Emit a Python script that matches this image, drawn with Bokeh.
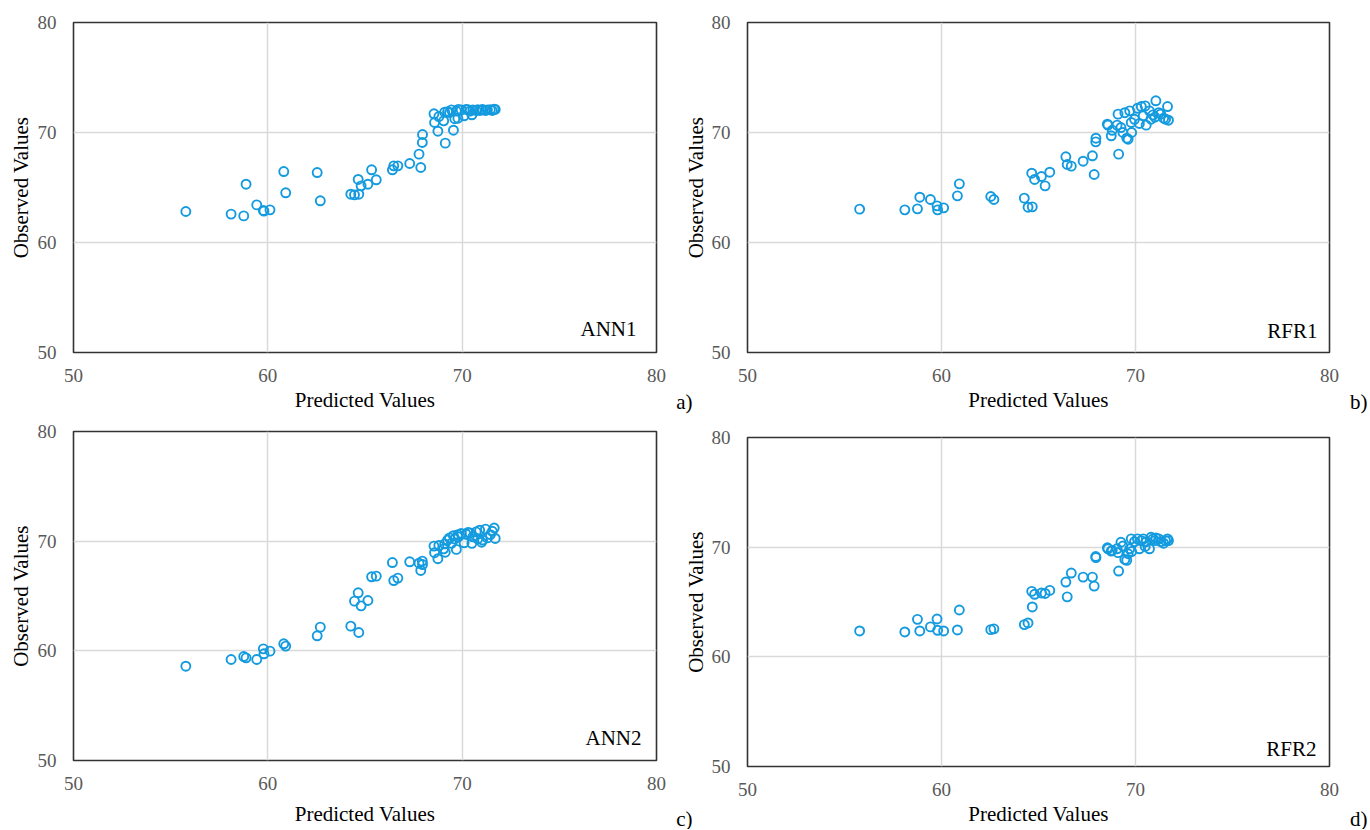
import math
from bokeh.plotting import figure
from bokeh.models import Range1d, FixedTicker, Label, ColumnDataSource
from bokeh.layouts import column, row
from bokeh.embed import file_html
from bokeh.resources import INLINE

# ---------------- data ----------------
predicted = [55.78, 58.11, 58.76, 58.88, 59.43, 59.77, 59.80, 60.11, 60.82, 60.92,
             62.54, 62.70, 64.27, 64.46, 64.68, 64.65, 64.80, 65.15, 65.34, 65.58,
             66.41, 66.48, 66.69, 67.30, 67.78, 67.87, 67.95, 67.96, 69.13,
             68.55, 68.58, 68.75, 68.80, 69.05, 69.10, 69.25, 69.35, 69.45, 69.55,
             69.62, 69.70, 69.78, 69.80, 69.95, 70.10, 70.20, 70.30, 70.40, 70.50,
             70.55, 70.72, 70.80, 70.90, 71.00, 71.05, 71.20, 71.30, 71.45, 71.55,
             71.65, 71.70]

observed_ann1 = [62.82, 62.58, 62.42, 65.30, 63.42, 62.91, 62.85, 62.97, 66.45, 64.52,
                 66.36, 63.79, 64.39, 64.33, 64.39, 65.73, 65.15, 65.30, 66.61, 65.70,
                 66.61, 66.97, 66.97, 67.18, 68.03, 66.82, 69.09, 69.82, 69.03,
                 71.70, 70.91, 70.12, 71.45, 71.06, 71.85, 71.90, 71.82, 72.06, 70.21,
                 71.25, 71.95, 71.30, 72.10, 72.06, 71.52, 72.10, 72.08, 71.95, 71.61,
                 72.06, 72.00, 72.08, 72.00, 72.05, 72.10, 72.00, 72.06, 72.08, 72.00,
                 72.12, 72.10]

observed_rfr1 = [63.03, 62.97, 63.06, 64.12, 63.91, 63.33, 62.97, 63.15, 64.24, 65.33,
                 64.18, 63.91, 64.03, 63.21, 63.24, 66.30, 65.73, 66.00, 65.15, 66.39,
                 67.79, 67.09, 66.94, 67.39, 67.88, 66.18, 69.15, 69.48, 68.03,
                 70.76, 70.67, 69.70, 70.20, 70.67, 71.67, 70.45, 70.00, 71.80, 69.48,
                 69.39, 71.97, 70.91, 70.00, 71.20, 72.20, 70.82, 72.36, 71.52, 72.42,
                 70.67, 71.97, 71.21, 71.60, 71.40, 72.88, 71.80, 71.67, 71.30, 71.21,
                 72.36, 71.12]

observed_ann2 = [58.60, 59.21, 59.48, 59.36, 59.21, 60.18, 59.73, 59.97, 60.64, 60.43,
                 61.37, 62.16, 62.25, 64.53, 61.67, 65.29, 64.10, 64.59, 66.75, 66.81,
                 68.05, 66.41, 66.63, 68.12, 67.99, 67.33, 68.18, 67.87, 68.99,
                 69.55, 68.95, 68.40, 69.60, 69.30, 69.75, 70.10, 70.30, 69.80, 70.50,
                 70.20, 69.25, 70.60, 70.40, 70.70, 69.85, 70.65, 70.80, 70.75, 69.80,
                 70.40, 70.85, 70.20, 71.00, 69.90, 70.10, 71.10, 70.30, 70.60, 70.90,
                 71.20, 70.25]

observed_rfr2 = [62.36, 62.27, 63.42, 62.36, 62.73, 63.45, 62.42, 62.36, 62.45, 64.27,
                 62.48, 62.55, 62.94, 63.09, 64.55, 65.97, 65.70, 65.82, 65.78, 66.06,
                 66.82, 65.47, 67.64, 67.27, 67.27, 66.45, 69.15, 69.05, 67.82,
                 69.94, 69.85, 69.64, 69.70, 69.85, 69.50, 70.45, 70.10, 68.88, 68.80,
                 69.40, 69.85, 70.76, 69.60, 70.50, 70.76, 69.85, 70.60, 70.76, 70.06,
                 70.50, 69.85, 70.90, 70.76, 70.60, 70.85, 70.76, 70.50, 70.36, 70.60,
                 70.76, 70.60]

axis_ticks = [50, 60, 70, 80]
x_title = "Predicted Values"
y_title = "Observed Values"

FONT = "Liberation Serif"
MARKER = "#149BDF"
ROW1_H, ROW2_H = 415, 414


def panel(obs, name, width, height, mb_left, mb_top, frame_w, frame_h,
          with_y_title, y_title_standoff, x_title_standoff, name_off):
    p = figure(width=width, height=height,
               x_range=Range1d(50, 80), y_range=Range1d(50, 80),
               output_backend="svg", toolbar_location=None, frame_align=False,
               min_border_left=mb_left, min_border_top=mb_top,
               min_border_right=width - mb_left - frame_w,
               min_border_bottom=height - mb_top - frame_h)
    p.background_fill_color = "white"
    p.border_fill_color = "white"
    p.outline_line_color = "#333333"
    p.outline_line_width = 1.6
    p.outline_line_alpha = 1.0

    for ax in (p.xaxis[0], p.yaxis[0]):
        ax.ticker = FixedTicker(ticks=axis_ticks)
        ax.axis_line_color = None
        ax.major_tick_line_color = None
        ax.minor_tick_line_color = None
        ax.major_label_text_font = FONT
        ax.major_label_text_font_size = "19px"
        ax.major_label_text_color = "#595959"
        ax.axis_label_text_font = FONT
        ax.axis_label_text_font_size = "21px"
        ax.axis_label_text_font_style = "normal"
        ax.axis_label_text_color = "black"
    p.xaxis.axis_label = x_title
    if with_y_title:
        p.yaxis.axis_label = y_title
        p.yaxis.axis_label_standoff = y_title_standoff
    p.xaxis.major_label_standoff = 10
    p.yaxis.major_label_standoff = 11
    p.xaxis.axis_label_standoff = x_title_standoff

    p.grid.grid_line_color = "#d9d9d9"
    p.grid.grid_line_width = 1.5

    src = ColumnDataSource(data=dict(x=predicted, y=obs))
    p.scatter("x", "y", source=src, marker="circle", size=9,
              fill_color=None, line_color=MARKER, line_width=1.9)

    p.add_layout(Label(x=80, y=50, x_offset=name_off[0], y_offset=name_off[1],
                       text=name, text_align="right", text_baseline="alphabetic",
                       text_font=FONT, text_font_size="21px", text_color="black"))
    return p


def gutter(width, height, letter, letter_x, letter_y, side_title=None):
    """Blank strip between panels (its frame is the whole strip, in pixels):
    holds the panel letter and, optionally, the y-axis title of the panel to its right."""
    g = figure(width=width, height=height,
               x_range=Range1d(0, width), y_range=Range1d(0, height),
               output_backend="svg", toolbar_location=None, frame_align=False,
               x_axis_type=None, y_axis_type=None, min_border=0)
    g.outline_line_color = None
    g.background_fill_color = "white"
    g.border_fill_color = "white"
    g.grid.visible = False
    g.add_layout(Label(x=letter_x, y=height - letter_y, text=letter,
                       text_align="right", text_baseline="middle",
                       text_font=FONT, text_font_size="21px", text_color="black"))
    if side_title is not None:
        tx, ty = side_title
        g.add_layout(Label(x=tx, y=height - ty, text=y_title, angle=math.pi / 2,
                           text_align="center", text_baseline="middle",
                           text_font=FONT, text_font_size="21px",
                           text_color="black"))
    return g


# row 1
pa = panel(observed_ann1, "ANN1", 668, ROW1_H, 73, 22, 583, 330, True, 2, 3, (-20, 24))
pb = panel(observed_rfr1, "RFR1", 640, ROW1_H, 39, 22, 582, 330, False, 0, 3, (-12, 22))
g1 = gutter(40, ROW1_H, "a)", 24, 401, side_title=(27.5, 22 + 330 / 2))
g2 = gutter(20, ROW1_H, "b)", 19, 401)

# row 2
pc = panel(observed_ann2, "ANN2", 668, ROW2_H, 73, 16, 583, 329, True, 2, 9, (-15, 23))
pd = panel(observed_rfr2, "RFR2", 640, ROW2_H, 39, 22, 582, 329, False, 0, 3, (-13, 18))
g3 = gutter(40, ROW2_H, "c)", 24, 403, side_title=(27.5, 22 + 329 / 2))
g4 = gutter(20, ROW2_H, "d)", 19, 403)

layout = column(row(pa, g1, pb, g2, spacing=0), row(pc, g3, pd, g4, spacing=0), spacing=0)

open("out.html", "w").write(file_html(layout, INLINE))
